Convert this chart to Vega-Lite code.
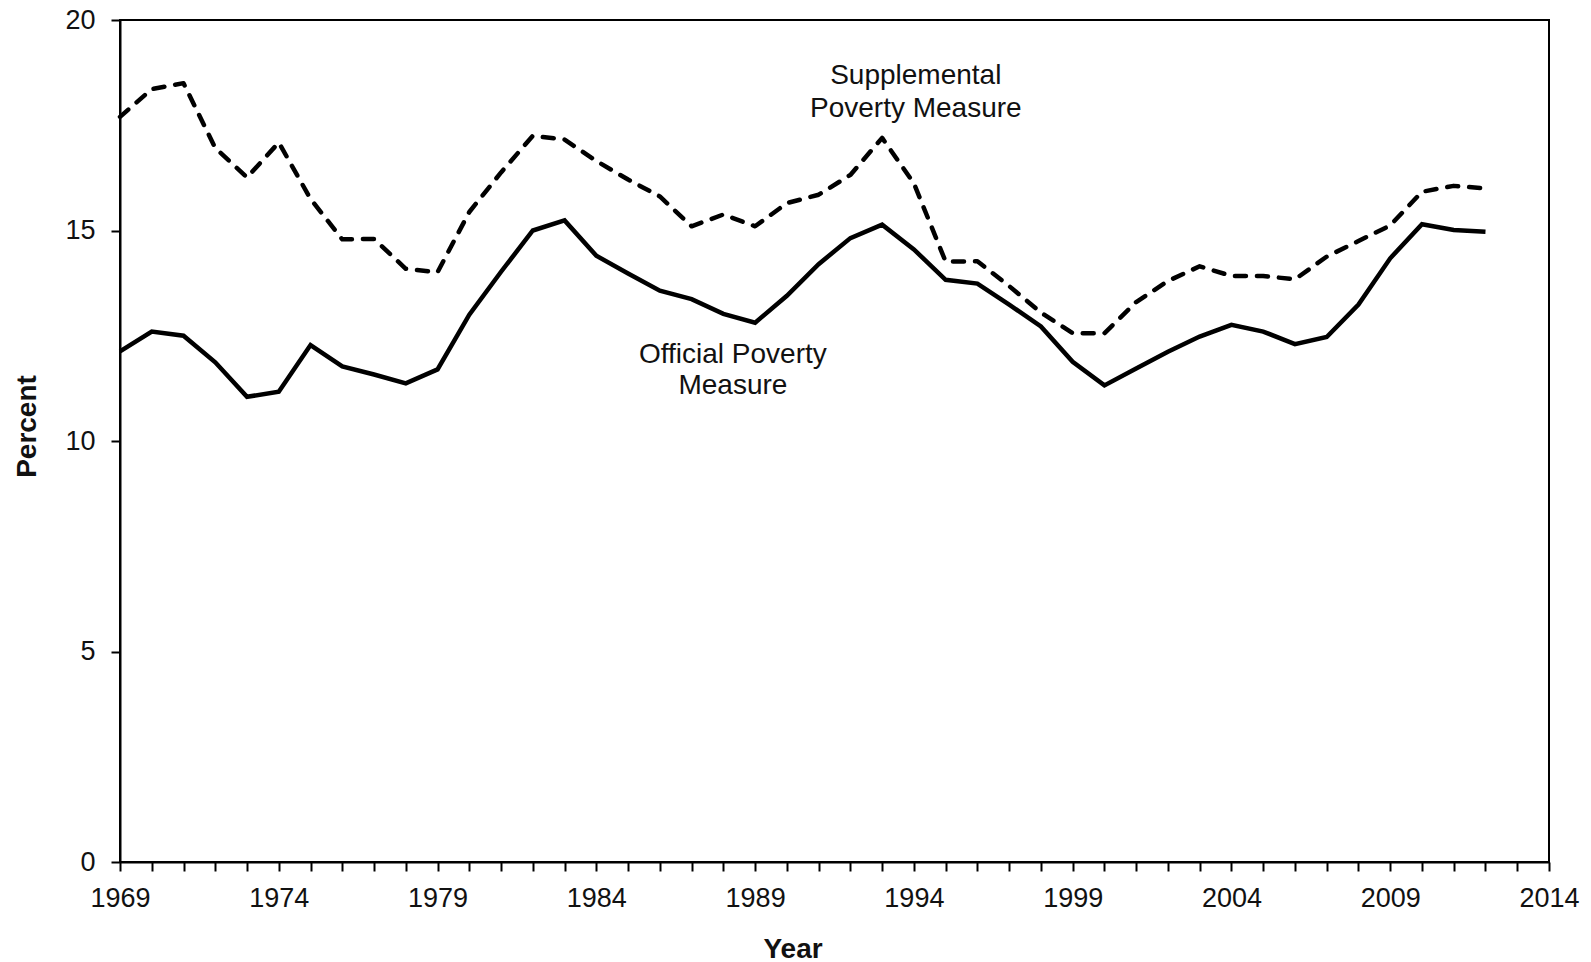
{
  "$schema": "https://vega.github.io/schema/vega-lite/v6.json",
  "autosize": {"type": "none"},
  "padding": {"left": 120, "top": 20, "right": 42, "bottom": 100},
  "width": 1429,
  "height": 842,
  "background": "white",
  "datasets": {
    "rates": [
      {"year": 1969, "official": 12.13, "supplemental": 17.70},
      {"year": 1970, "official": 12.60, "supplemental": 18.36},
      {"year": 1971, "official": 12.50, "supplemental": 18.50},
      {"year": 1972, "official": 11.87, "supplemental": 16.96},
      {"year": 1973, "official": 11.05, "supplemental": 16.26},
      {"year": 1974, "official": 11.17, "supplemental": 17.09},
      {"year": 1975, "official": 12.28, "supplemental": 15.75},
      {"year": 1976, "official": 11.77, "supplemental": 14.79},
      {"year": 1977, "official": 11.58, "supplemental": 14.80},
      {"year": 1978, "official": 11.37, "supplemental": 14.09},
      {"year": 1979, "official": 11.70, "supplemental": 14.01},
      {"year": 1980, "official": 13.00, "supplemental": 15.44},
      {"year": 1981, "official": 14.02, "supplemental": 16.38},
      {"year": 1982, "official": 15.00, "supplemental": 17.25},
      {"year": 1983, "official": 15.24, "supplemental": 17.16},
      {"year": 1984, "official": 14.40, "supplemental": 16.65},
      {"year": 1985, "official": 13.98, "supplemental": 16.21},
      {"year": 1986, "official": 13.57, "supplemental": 15.81},
      {"year": 1987, "official": 13.37, "supplemental": 15.10},
      {"year": 1988, "official": 13.02, "supplemental": 15.38},
      {"year": 1989, "official": 12.81, "supplemental": 15.10},
      {"year": 1990, "official": 13.45, "supplemental": 15.65},
      {"year": 1991, "official": 14.20, "supplemental": 15.85},
      {"year": 1992, "official": 14.82, "supplemental": 16.32},
      {"year": 1993, "official": 15.14, "supplemental": 17.20},
      {"year": 1994, "official": 14.55, "supplemental": 16.12},
      {"year": 1995, "official": 13.83, "supplemental": 14.26},
      {"year": 1996, "official": 13.74, "supplemental": 14.27},
      {"year": 1997, "official": 13.24, "supplemental": 13.68},
      {"year": 1998, "official": 12.72, "supplemental": 13.05},
      {"year": 1999, "official": 11.88, "supplemental": 12.56},
      {"year": 2000, "official": 11.32, "supplemental": 12.56},
      {"year": 2001, "official": 11.72, "supplemental": 13.30},
      {"year": 2002, "official": 12.12, "supplemental": 13.80},
      {"year": 2003, "official": 12.48, "supplemental": 14.15},
      {"year": 2004, "official": 12.76, "supplemental": 13.92},
      {"year": 2005, "official": 12.60, "supplemental": 13.92},
      {"year": 2006, "official": 12.30, "supplemental": 13.84},
      {"year": 2007, "official": 12.47, "supplemental": 14.38},
      {"year": 2008, "official": 13.24, "supplemental": 14.75},
      {"year": 2009, "official": 14.34, "supplemental": 15.12},
      {"year": 2010, "official": 15.15, "supplemental": 15.92},
      {"year": 2011, "official": 15.01, "supplemental": 16.06},
      {"year": 2012, "official": 14.97, "supplemental": 16.00}
    ],
    "labels": [
      {"text": "Supplemental", "year": 1994.06, "pct": 18.67},
      {"text": "Poverty Measure", "year": 1994.06, "pct": 17.89},
      {"text": "Official Poverty", "year": 1988.3, "pct": 12.04},
      {"text": "Measure", "year": 1988.3, "pct": 11.31}
    ]
  },
  "layer": [
    {
      "data": {"name": "rates"},
      "mark": {"type": "line", "color": "#000", "strokeWidth": 4.5, "strokeDash": [11, 11], "strokeCap": "round", "strokeJoin": "round"},
      "encoding": {
        "x": {
          "field": "year", "type": "quantitative",
          "scale": {"domain": [1969, 2014], "nice": false, "zero": false},
          "axis": {
            "title": "Year",
            "values": [1969,1970,1971,1972,1973,1974,1975,1976,1977,1978,1979,1980,1981,1982,1983,1984,1985,1986,1987,1988,1989,1990,1991,1992,1993,1994,1995,1996,1997,1998,1999,2000,2001,2002,2003,2004,2005,2006,2007,2008,2009,2010,2011,2012,2013,2014],
            "tickCount": 200,
            "labelExpr": "(datum.value - 1969) % 5 === 0 ? format(datum.value, 'd') : ''",
            "labelFlush": false,
            "labelOverlap": false,
            "labelPadding": 14,
            "tickSize": 9,
            "titleX": 672.5,
            "titleY": 95,
            "titleBaseline": "alphabetic",
            "titleAlign": "center",
            "titleFontSize": 28,
            "titleFontWeight": "bold"
          }
        },
        "y": {
          "field": "supplemental", "type": "quantitative",
          "scale": {"domain": [0, 20], "nice": false},
          "axis": {
            "title": "Percent",
            "values": [0, 5, 10, 15, 20],
            "format": "d",
            "labelFlush": false,
            "labelPadding": 16,
            "tickSize": 9,
            "titleX": -85,
            "titleY": 406,
            "titleBaseline": "alphabetic",
            "titleAlign": "center",
            "titleFontSize": 28,
            "titleFontWeight": "bold"
          }
        }
      }
    },
    {
      "data": {"name": "rates"},
      "mark": {"type": "line", "color": "#000", "strokeWidth": 4.5, "strokeJoin": "miter"},
      "encoding": {
        "x": {"field": "year", "type": "quantitative"},
        "y": {"field": "official", "type": "quantitative"}
      }
    },
    {
      "data": {"name": "labels"},
      "mark": {"type": "text", "font": "Liberation Sans", "fontSize": 28, "color": "#111", "align": "center", "baseline": "middle"},
      "encoding": {
        "x": {"field": "year", "type": "quantitative"},
        "y": {"field": "pct", "type": "quantitative"},
        "text": {"field": "text"}
      }
    }
  ],
  "config": {
    "view": {"stroke": "#000", "strokeWidth": 2},
    "axis": {
      "grid": false,
      "domainColor": "#000",
      "domainWidth": 2,
      "tickColor": "#000",
      "tickWidth": 2,
      "labelFont": "Liberation Sans",
      "labelFontSize": 27,
      "labelColor": "#111",
      "titleFont": "Liberation Sans",
      "titleColor": "#111"
    }
  }
}
